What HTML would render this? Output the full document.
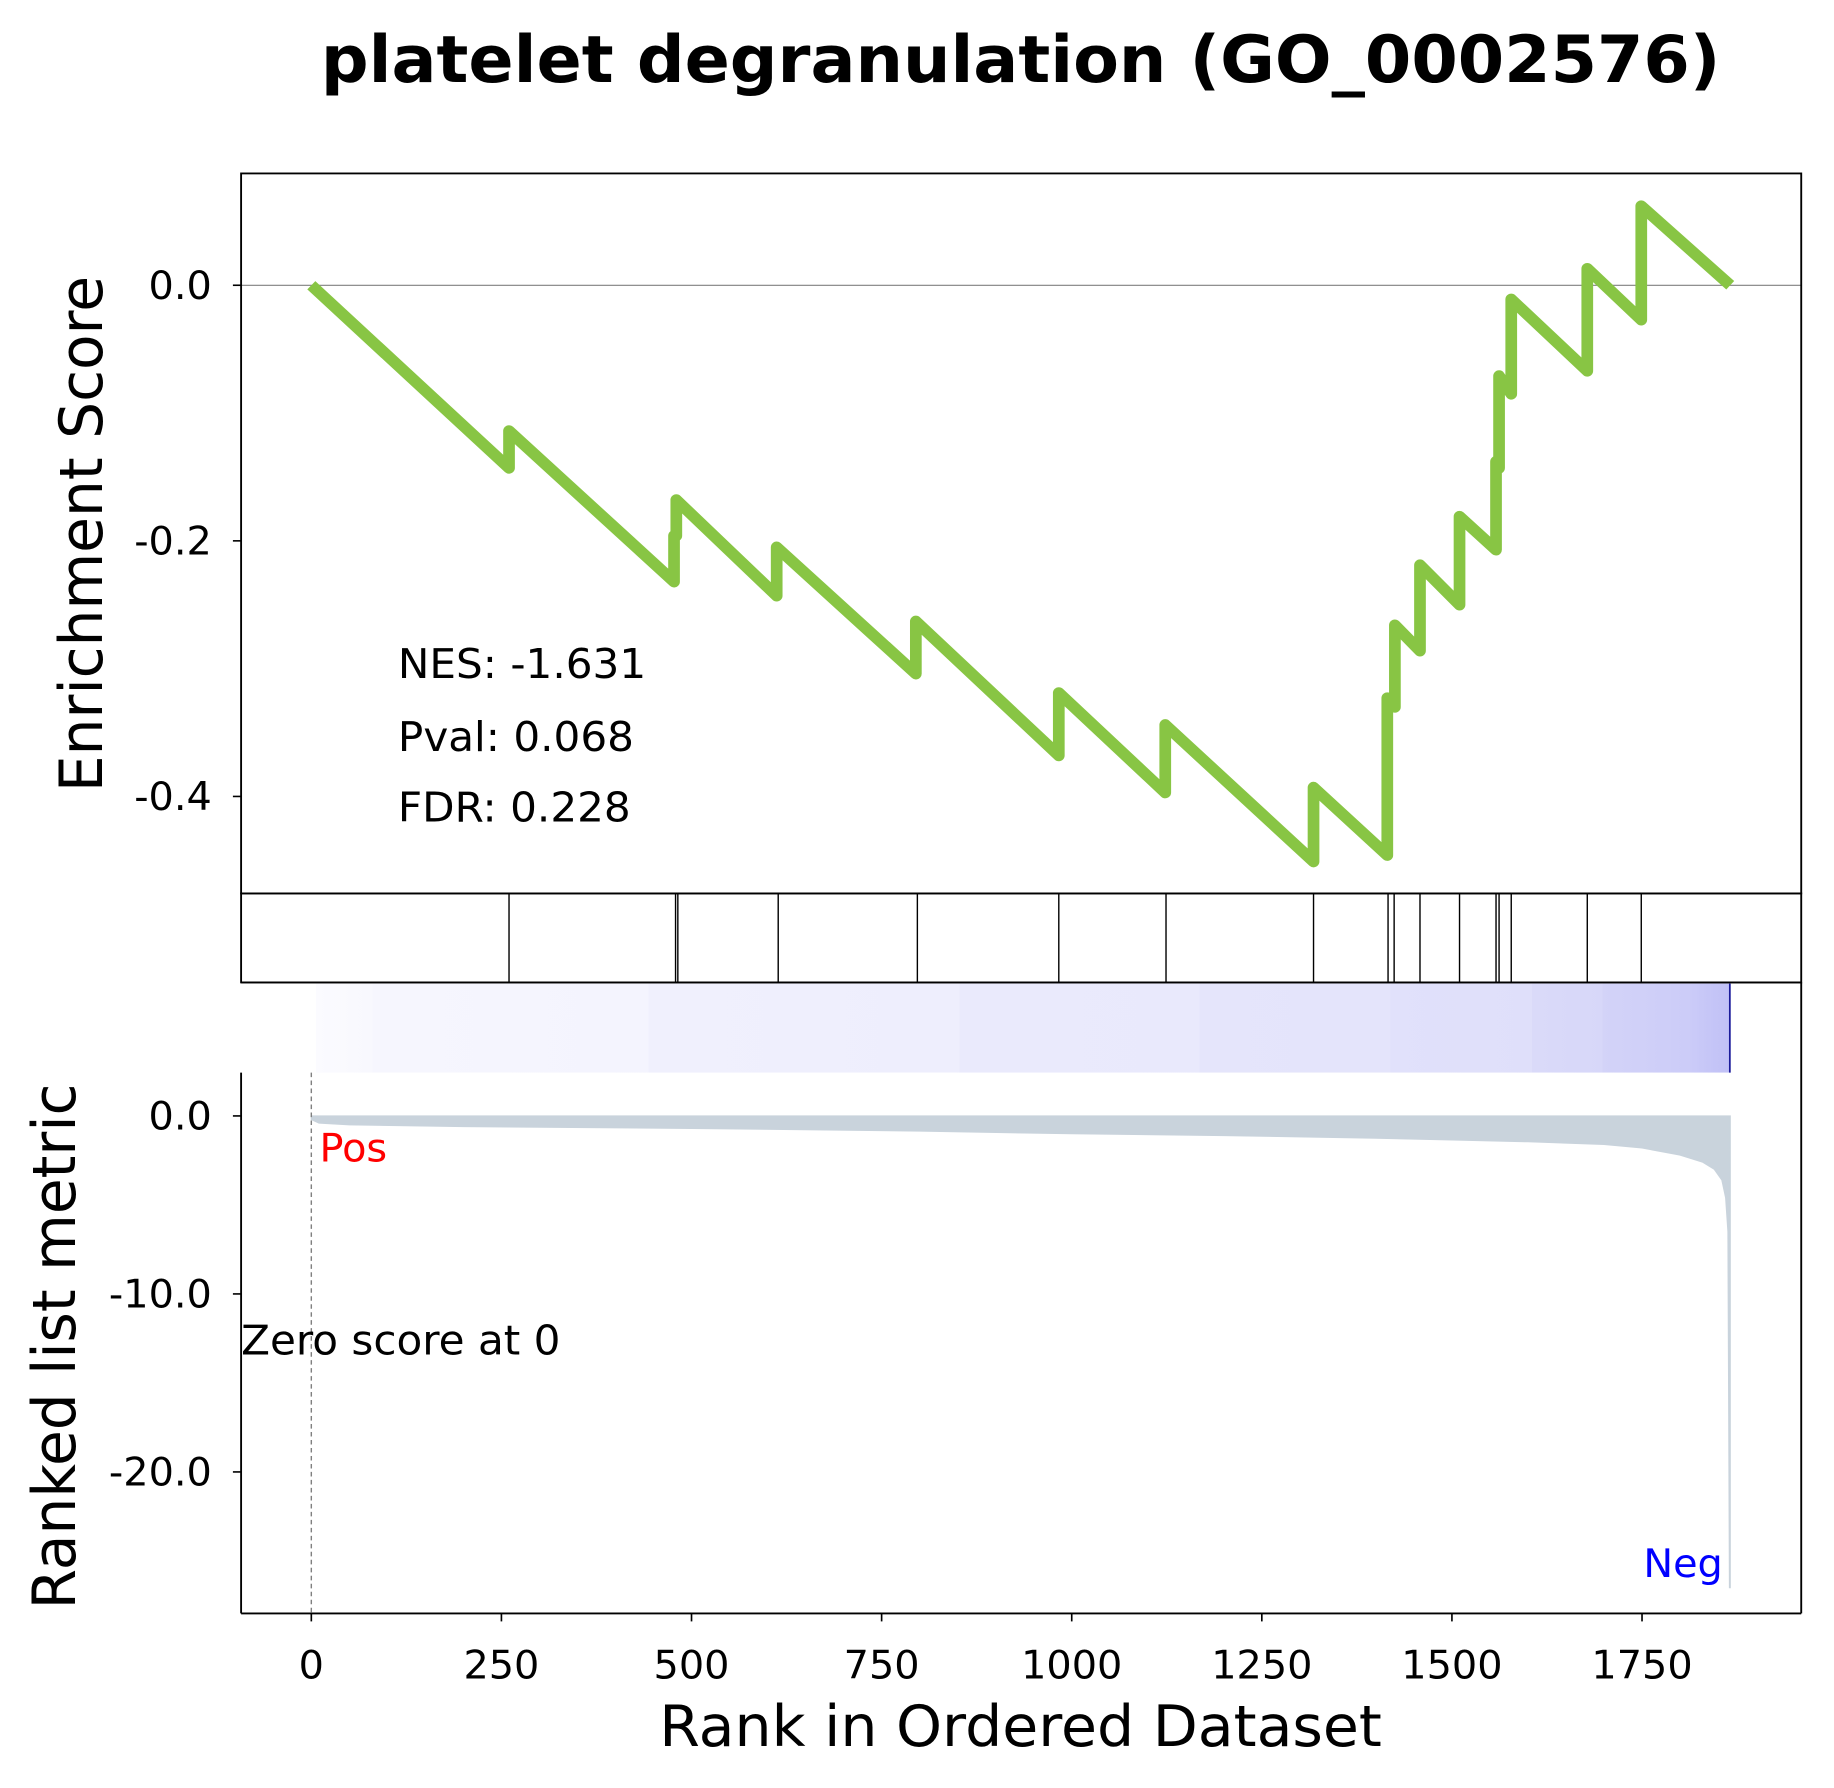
<!DOCTYPE html>
<html><head><meta charset="utf-8"><style>html,body{margin:0;padding:0;background:#fff}svg{display:block}text{font-family:"DejaVu Sans","Liberation Sans",sans-serif}</style></head>
<body>
<svg id="chart" xmlns="http://www.w3.org/2000/svg" width="1834" height="1788" viewBox="0 0 1567 1567" preserveAspectRatio="none">
<defs>
<linearGradient id="cb" x1="0" x2="1" y1="0" y2="0">
<stop offset="0" stop-color="#fbfbff"/><stop offset="0.04" stop-color="#f8f8fe"/><stop offset="0.04" stop-color="#f6f6fe"/>
<stop offset="0.235" stop-color="#f4f4fe"/><stop offset="0.235" stop-color="#f0f0fd"/><stop offset="0.455" stop-color="#eeeefd"/>
<stop offset="0.455" stop-color="#eaeafc"/><stop offset="0.625" stop-color="#e9e9fc"/><stop offset="0.625" stop-color="#e5e5fb"/>
<stop offset="0.76" stop-color="#e4e4fb"/><stop offset="0.76" stop-color="#e1e1fb"/><stop offset="0.86" stop-color="#dfdffa"/>
<stop offset="0.86" stop-color="#dadaf9"/><stop offset="0.91" stop-color="#d7d7f9"/><stop offset="0.91" stop-color="#d3d3f8"/>
<stop offset="0.97" stop-color="#ccccf8"/><stop offset="1" stop-color="#c0c0f6"/>
</linearGradient>
</defs>
<text x="872" y="72" font-size="57" font-weight="bold" text-anchor="middle">platelet degranulation (GO_0002576)</text>
<g id="g"></g>
</svg>
<script>
const esRanks = [0,260,260,477,477,480,480,612,612,795,795,983,983,1123,1123,1318,1318,1415,1415,1425,1425,1458,1458,1510,1510,1558,1558,1562,1562,1578,1578,1678,1678,1749,1749,1866];
const esValues = [0,-0.143,-0.114,-0.232,-0.196,-0.196,-0.168,-0.243,-0.205,-0.304,-0.263,-0.368,-0.319,-0.397,-0.344,-0.451,-0.393,-0.446,-0.323,-0.330,-0.266,-0.286,-0.219,-0.250,-0.181,-0.207,-0.138,-0.143,-0.071,-0.085,-0.011,-0.067,0.013,-0.027,0.062,0];
const hitRanks = [260,479,482,614,797,983,1124,1318,1416,1424,1458,1510,1558,1562,1578,1678,1749];
const metricRanks = [0,10,50,200,500,800,1000,1200,1400,1500,1600,1700,1750,1800,1830,1845,1855,1860,1863,1865,1866];
const metricValues = [-0.2,-0.4,-0.5,-0.6,-0.7,-0.85,-1.0,-1.1,-1.25,-1.35,-1.45,-1.6,-1.8,-2.2,-2.6,-3.0,-3.6,-4.6,-6.5,-26.5,-26.5];
const xTicks = [0,250,500,750,1000,1250,1500,1750];
const esTicks = [0,-0.2,-0.4];
const esTickLabels = ["0.0","-0.2","-0.4"];
const mTicks = [0,-10,-20];
const mTickLabels = ["0.0","-10.0","-20.0"];

const NS="http://www.w3.org/2000/svg", g=document.getElementById('g');
const X=r=>266+r*0.6497, YE=v=>250-v*1120, YM=v=>978-v*15.6;
function el(t,a,txt){const e=document.createElementNS(NS,t);for(const k in a)e.setAttribute(k,a[k]);if(txt!==undefined)e.textContent=txt;g.appendChild(e);return e;}

let e;
e=el('line',{x1:206,x2:1539,y1:250,y2:250,stroke:'#808080','stroke-width':1});


e=el('polyline',{points:esRanks.map((r,i)=>X(r)+','+YE(esValues[i])).join(' '),fill:'none',stroke:'#88c544','stroke-width':10,'stroke-linejoin':'round'});


e=el('rect',{x:206,y:152,width:1333,height:631,fill:'none',stroke:'#000','stroke-width':1.6});


esTicks.forEach((v,i)=>{
  el('line',{x1:199,x2:206,y1:YE(v),y2:YE(v),stroke:'#000','stroke-width':1.4});
  const t=el('text',{x:181,y:YE(v)+12,'font-size':34,'text-anchor':'end'},esTickLabels[i]);
  
  
});
e=el('text',{x:0,y:0,'font-size':51,'text-anchor':'middle',transform:'translate(87,468) rotate(-90)'},'Enrichment Score');


[['NES: -1.631',594],['Pval: 0.068',658],['FDR: 0.228',720]].forEach(([s,y])=>{
  const t=el('text',{x:340,y:y,'font-size':36},s);
  
  
});
e=el('rect',{x:206,y:783,width:1333,height:78,fill:'none',stroke:'#000','stroke-width':1.6});


hitRanks.forEach(r=>{
  const l=el('line',{x1:X(r),x2:X(r),y1:783,y2:861,stroke:'#000','stroke-width':1.2});
  
  
});
e=el('rect',{x:270,y:862,width:1208,height:78,fill:'url(#cb)'});


el('line',{x1:1478,x2:1478,y1:862,y2:940,stroke:'#1a1a9a','stroke-width':1.5});
let pts=X(metricRanks[0])+','+YM(0)+' '+metricRanks.map((r,i)=>X(r)+','+YM(metricValues[i])).join(' ')+' '+X(metricRanks[metricRanks.length-1])+','+YM(0);
e=el('polygon',{points:pts,fill:'#c9d3dc',stroke:'#c9d3dc','stroke-width':1});


e=el('line',{x1:266,x2:266,y1:940,y2:1414,stroke:'#808080','stroke-width':1.2,'stroke-dasharray':'4,3'});


el('line',{x1:206,x2:1539,y1:861,y2:861,stroke:'#000','stroke-width':1.6});
el('line',{x1:1539,x2:1539,y1:861,y2:1414,stroke:'#000','stroke-width':1.6});
el('line',{x1:206,x2:206,y1:940,y2:1414,stroke:'#000','stroke-width':1.6});
el('line',{x1:206,x2:1539,y1:1414,y2:1414,stroke:'#000','stroke-width':1.6});
mTicks.forEach((v,i)=>{
  el('line',{x1:199,x2:206,y1:YM(v),y2:YM(v),stroke:'#000','stroke-width':1.4});
  const t=el('text',{x:181,y:YM(v)+12,'font-size':34,'text-anchor':'end'},mTickLabels[i]);
  
  
});
xTicks.forEach(v=>{
  el('line',{x1:X(v),x2:X(v),y1:1414,y2:1421,stroke:'#000','stroke-width':1.4});
  const t=el('text',{x:X(v),y:1471,'font-size':34,'text-anchor':'middle'},String(v));
  
  
});
e=el('text',{x:0,y:0,'font-size':51,'text-anchor':'middle',transform:'translate(64,1180) rotate(-90)'},'Ranked list metric');


e=el('text',{x:872,y:1530,'font-size':50,'text-anchor':'middle'},'Rank in Ordered Dataset');


e=el('text',{x:273,y:1018,'font-size':34,fill:'#ff0000'},'Pos');


e=el('text',{x:1472,y:1382,'font-size':34,fill:'#0000ff','text-anchor':'end'},'Neg');


e=el('text',{x:206,y:1187,'font-size':36},'Zero score at 0');


</script>
</body></html>
